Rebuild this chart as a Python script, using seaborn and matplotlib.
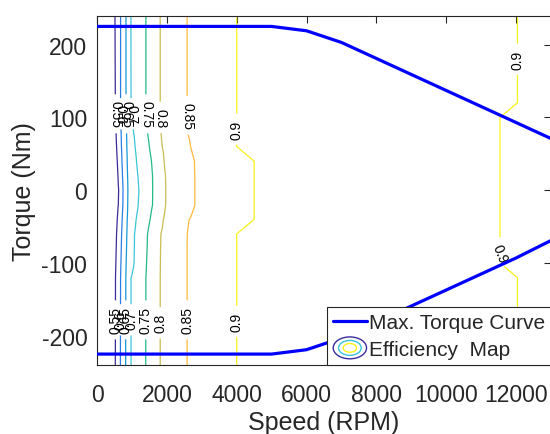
import numpy as np
import matplotlib
matplotlib.use("Agg")
import matplotlib.pyplot as plt
import seaborn as sns
from matplotlib.legend_handler import HandlerBase
from matplotlib.patches import Ellipse, Patch
from matplotlib.lines import Line2D

# ---------------- data ----------------
curve_speed = [0, 1000, 2000, 3000, 4000, 5000, 6000, 7000, 8000, 9000, 10000, 11000, 12000, 13000]
torque_max = [225, 225, 225, 225, 225, 225, 219, 203, 181, 159, 137, 115, 93, 71]
torque_min = [-225, -225, -225, -225, -225, -225, -219, -203, -181, -159, -137, -115, -93, -69]

levels = [0.55, 0.6, 0.65, 0.7, 0.75, 0.8, 0.85, 0.9]
level_colors = ["#3b2b9c", "#2a7de6", "#1598da", "#3cc4d8", "#22b98a", "#c9bd52", "#fdba3c", "#f7f21c"]

# torque rows of the efficiency map and speed (RPM) where each level is crossed
torque_rows = [-240, -120, -100, -80, -60, -40, -20, 0, 20, 40, 60, 80, 100, 120, 240]
cross_055 = [525, 530, 540, 550, 560, 580, 610, 620, 600, 580, 560, 545, 535, 525, 515]
cross_060 = [670, 675, 685, 695, 705, 720, 740, 745, 730, 715, 700, 690, 680, 675, 675]
cross_065 = [820, 825, 835, 845, 855, 865, 880, 885, 875, 865, 855, 846, 835, 830, 830]
cross_070 = [975, 975, 1060, 1070, 1075, 1120, 1180, 1200, 1170, 1130, 1090, 1046, 1000, 975, 971]
cross_075 = [1395, 1400, 1420, 1435, 1446, 1520, 1590, 1595, 1590, 1560, 1500, 1446, 1420, 1400, 1400]
cross_080 = [1810, 1810, 1815, 1820, 1830, 1900, 1965, 1971, 1960, 1920, 1870, 1830, 1815, 1810, 1810]
cross_085 = [2580, 2580, 2580, 2580, 2585, 2640, 2800, 2800, 2800, 2790, 2680, 2585, 2580, 2580, 2580]
cross_090 = [4000, 4000, 4000, 4000, 4000, 4500, 4500, 4500, 4500, 4500, 4000, 4000, 4000, 4000, 4000]
cross_090_high = [12040, 12040, 11540, 11540, 11540, 11540, 11540, 11540, 11540, 11540, 11540, 11540, 11540, 12040, 12040]
eff_at_zero = 0.40
peak_speed, eff_peak = 8000, 0.92
eff_at_max_speed = 0.88

# ---------------- build the grid the contour routine needs ----------------
low_crossings = [cross_055, cross_060, cross_065, cross_070, cross_075, cross_080, cross_085, cross_090]
all_speeds = {0, peak_speed, 13000}
for c in low_crossings + [cross_090_high]:
    all_speeds.update(c)
speed_nodes = np.array(sorted(all_speeds), dtype=float)
Z = []
for i in range(len(torque_rows)):
    xp = [0] + [c[i] for c in low_crossings] + [peak_speed, cross_090_high[i], 13000]
    fp = [eff_at_zero] + levels + [eff_peak, 0.9, eff_at_max_speed]
    Z.append(np.interp(speed_nodes, xp, fp))
Z = np.array(Z)

# ---------------- style ----------------
sns.set_style("white")
plt.rcParams["font.family"] = ["Liberation Sans", "DejaVu Sans"]
plt.rcParams["axes.unicode_minus"] = False
TXT = "#262626"

fig = plt.figure(figsize=(5.5, 4.35), dpi=100)
ax = fig.add_axes([97 / 550, 69 / 435, 454 / 550, 349.5 / 435])

cs = ax.contour(speed_nodes, torque_rows, Z, levels=levels, colors=level_colors,
                linewidths=0.9, zorder=2)

label_pos = [(525, 105), (675, 105), (830, 105), (990, 105), (1410, 105), (1812, 100),
             (2580, 103), (4000, 84), (12040, 180),
             (525, -178), (675, -178), (825, -178), (975, -178), (1395, -178),
             (1810, -182), (2580, -178), (4000, -180), (11540, -86)]
texts = ax.clabel(cs, levels=levels, manual=label_pos, inline=True, inline_spacing=6,
                  fmt="%g", fontsize=10, colors="k")
for t in texts:
    x, y = t.get_position()
    if x > 10000 and y < 0:
        t.set_rotation(-68)
    elif y > 0 and x < 3000:
        t.set_rotation(270)
    else:
        t.set_rotation(90)

sns.lineplot(x=curve_speed, y=torque_max, ax=ax, color="#0000ff", lw=2.3,
             zorder=4, legend=False)
sns.lineplot(x=curve_speed, y=torque_min, ax=ax, color="#0000ff", lw=2.3,
             zorder=4, legend=False)

ax.set_xlim(0, 13000)
ax.set_ylim(-240, 240)
ax.set_xticks([0, 2000, 4000, 6000, 8000, 10000, 12000])
ax.set_yticks([-200, -100, 0, 100, 200])
ax.tick_params(direction="in", length=5, width=0.8, top=True, right=True,
               labelsize=16.5, colors=TXT)
ax.tick_params(axis="x", pad=13)
ax.tick_params(axis="y", pad=7)
for s in ax.spines.values():
    s.set_color(TXT)
    s.set_linewidth(0.8)
ax.set_xlabel("Speed (RPM)", fontsize=18, color=TXT, labelpad=3)
ax.set_ylabel("Torque (Nm)", fontsize=18, color=TXT, labelpad=4)


class HandlerEllipses(HandlerBase):
    def create_artists(self, legend, orig_handle, xdescent, ydescent, width, height,
                       fontsize, trans):
        cx = width / 2 - xdescent
        cy = height / 2 - ydescent
        arts = []
        for scale, col in [(1.0, "#3b2b9c"), (0.68, "#3cc4d8"), (0.4, "#f7f21c")]:
            e = Ellipse((cx, cy), width * scale, height * 1.5 * scale, fill=False,
                        edgecolor=col, lw=1.0, transform=trans)
            arts.append(e)
        return arts


eff_proxy = Patch()
leg = ax.legend([Line2D([0], [0], color="#0000ff", lw=2.3), eff_proxy],
                ["Max. Torque Curve", "Efficiency  Map"],
                handler_map={eff_proxy: HandlerEllipses()},
                loc="lower right", bbox_to_anchor=(1, 0), borderaxespad=0,
                fontsize=15, frameon=True, fancybox=False, framealpha=1,
                edgecolor="#262626", handlelength=1.6, handletextpad=0.12,
                borderpad=0.28, labelspacing=0.4)
leg.get_frame().set_linewidth(0.8)
leg.set_zorder(5)

fig.savefig("out.png", dpi=100)
